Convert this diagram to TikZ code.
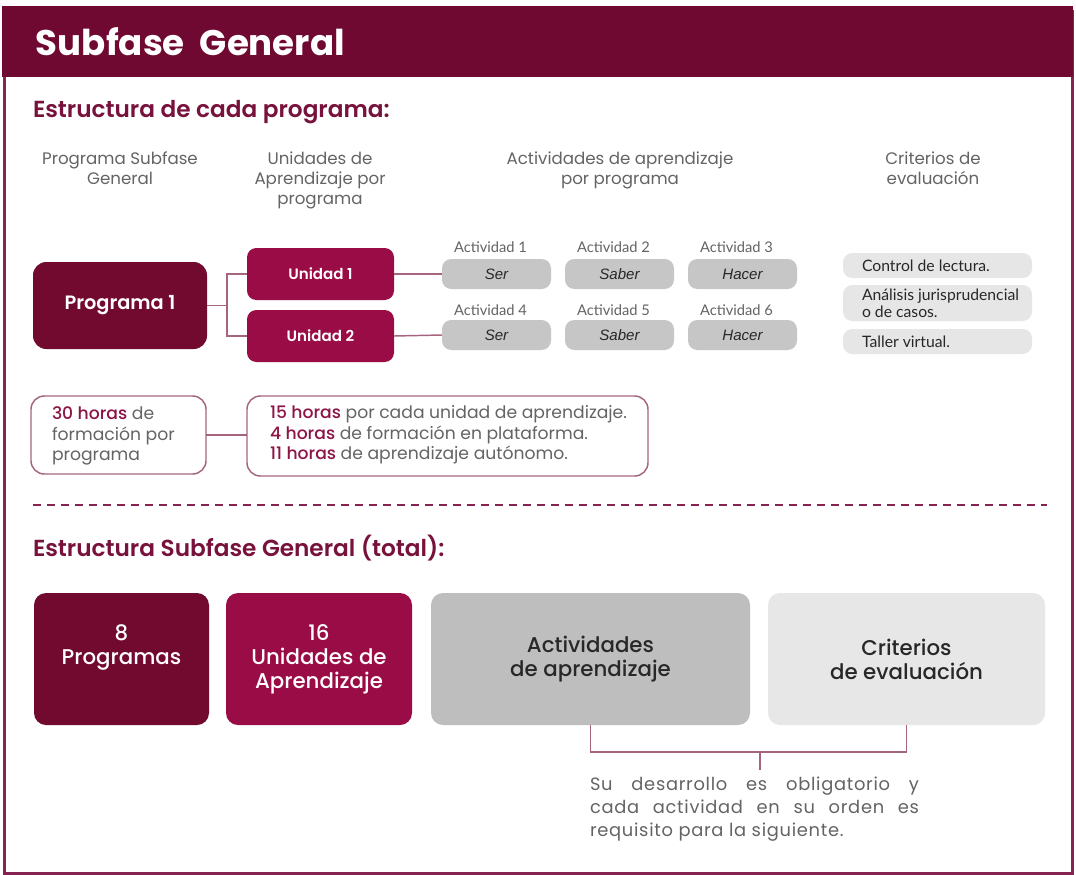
\documentclass[tikz,border=0pt]{standalone}
\usepackage{fontspec}
\setmainfont{Poppins}
\newfontfamily\pmed{Poppins Medium}
\newfontfamily\psemi{Poppins SemiBold}
\newfontfamily\pspaced{Poppins}[LetterSpace=4]
\newfontfamily\lato{Lato}
\newfontfamily\lib{Liberation Sans}
\definecolor{hdr}{RGB}{112,9,50}
\definecolor{prog}{RGB}{114,10,48}
\definecolor{unit}{RGB}{154,12,70}
\definecolor{ttl}{RGB}{120,18,60}
\definecolor{gtx}{RGB}{100,100,100}
\definecolor{dtx}{RGB}{40,40,40}
\definecolor{actg}{RGB}{198,198,199}
\definecolor{crit}{RGB}{230,230,231}
\definecolor{bigg}{RGB}{190,190,191}
\definecolor{bigc}{RGB}{231,231,232}
\definecolor{lnc}{RGB}{165,100,128}
\definecolor{hrs}{RGB}{140,20,70}
\definecolor{frm}{RGB}{135,35,80}
\tikzset{
  every node/.style={inner sep=0pt, outer sep=0pt},
  progbox/.style={fill=prog, rounded corners=10pt, text=white, font=\psemi\fontsize{14.5}{17}\selectfont},
  unitbox/.style={fill=unit, rounded corners=7pt, text=white, font=\psemi\fontsize{11.3}{13}\selectfont},
  actbox/.style={fill=actg, rounded corners=7pt, text=dtx, font=\lib\itshape\fontsize{11.3}{13}\selectfont, minimum width=109*0.75pt, minimum height=30*0.75pt},
  actlbl/.style={text=gtx, font=\lato\fontsize{11}{12}\selectfont},
  critbox/.style={fill=crit, rounded corners=7pt, minimum width=189*0.75pt},
  crittxt/.style={text=dtx, font=\lato\fontsize{11.8}{12.5}\selectfont, align=left, anchor=west},
  colhead/.style={text=gtx, font=\fontsize{12.5}{15}\selectfont, align=center, anchor=north},
  hrsbox/.style={draw=lnc, line width=1.1pt, rounded corners=10pt},
  hrstxt/.style={text=gtx, font=\fontsize{12.9}{15.5}\selectfont, align=left, anchor=west},
  sechead/.style={text=ttl, font=\psemi\fontsize{17.4}{20}\selectfont, anchor=west},
  bigbox/.style={rounded corners=9pt, minimum height=132*0.75pt, align=center, font=\pmed\fontsize{16}{18}\selectfont},
  conn/.style={draw=lnc, line width=1.1pt},
}
\newcommand{\hh}[1]{{\pmed\color{hrs}#1}}
\begin{document}
\begin{tikzpicture}[x=0.75pt,y=-0.75pt]
\useasboundingbox (0,0) rectangle (1076,875);
\fill[white] (0,0) rectangle (1076,875);
% frame
\draw[frm, line width=2.2pt] (4.5,10) -- (4.5,873.5) -- (1072.5,873.5) -- (1072.5,10);
% header
\node[fill=hdr, minimum width=1071*0.75pt, minimum height=71*0.75pt, anchor=north west] (hdr) at (2,6) {};
\node[text=white, font=\bfseries\fontsize{26.7}{30}\selectfont, anchor=west] (title) at (36,42) {Subfase\ \ General};
% section 1
\node[sechead] (sec1) at (33,112) {Estructura de cada programa:};
\node[colhead] (ch1) at (120,152) {Programa Subfase\\General};
\node[colhead] (ch2) at (320,152) {Unidades de\\Aprendizaje por\\programa};
\node[colhead] (ch3) at (620,152) {Actividades de aprendizaje\\por programa};
\node[colhead] (ch4) at (933,152) {Criterios de\\evaluación};
% program and units
\node[progbox, minimum width=174*0.75pt, minimum height=87*0.75pt] (prog1) at (120,305.5) {Programa 1};
\node[unitbox, minimum width=147*0.75pt, minimum height=52*0.75pt] (u1) at (320.5,274) {Unidad 1};
\node[unitbox, minimum width=147*0.75pt, minimum height=52*0.75pt] (u2) at (320.5,336) {Unidad 2};
\coordinate (j) at (227,305.5);
\draw[conn] (prog1.east) -- (j);
\draw[conn] (u1.west) -| (j) |- (u2.west);
% activities
\node[actbox] (a1) at (496.5,274) {Ser};
\node[actbox] (a2) at (619.5,274) {Saber};
\node[actbox] (a3) at (742.5,274) {Hacer};
\node[actbox] (a4) at (496.5,335) {Ser};
\node[actbox] (a5) at (619.5,335) {Saber};
\node[actbox] (a6) at (742.5,335) {Hacer};
\node[actlbl] (l1) at (490.5,247) {Actividad 1};
\node[actlbl] (l2) at (613.5,247) {Actividad 2};
\node[actlbl] (l3) at (736.5,247) {Actividad 3};
\node[actlbl] (l4) at (490.5,310) {Actividad 4};
\node[actlbl] (l5) at (613.5,310) {Actividad 5};
\node[actlbl] (l6) at (736.5,310) {Actividad 6};
\draw[conn] (u1.east) -- (a1.west);
\draw[conn] (u2.east) -- (a4.west);
% criteria
\node[critbox, minimum height=25*0.75pt] (c1) at (937.5,265.5) {};
\node[critbox, minimum height=36*0.75pt] (c2) at (937.5,303) {};
\node[critbox, minimum height=25*0.75pt] (c3) at (937.5,341.5) {};
\node[crittxt] (c1t) at (862,265.5) {Control de lectura.};
\node[crittxt] (c2t) at (862,303) {Análisis jurisprudencial\\o de casos.};
\node[crittxt] (c3t) at (862,341.5) {Taller virtual.};
% hours
\node[hrsbox, minimum width=175*0.75pt, minimum height=78*0.75pt] (h1) at (118.5,435) {};
\node[hrsbox, minimum width=401*0.75pt, minimum height=80*0.75pt] (h2) at (447.5,436) {};
\node[hrstxt] (h1t) at (52,436) {\hh{30 horas} de\\formación por\\programa};
\node[hrstxt] (h2t) at (270,435) {\hh{15 horas} por cada unidad de aprendizaje.\\\hh{4 horas} de formación en plataforma.\\\hh{11 horas} de aprendizaje autónomo.};
\draw[conn] (h1.east) -- (h1.east -| h2.west);
% dashed separator
\coordinate (d1) at (33,505);
\coordinate (d2) at (1047,505);
\draw[draw=frm, line width=1.5pt, dash pattern=on 6pt off 4.5pt] (d1) -- (d2);
% section 2
\node[sechead] (sec2) at (33,548) {Estructura Subfase General (total):};
\node[bigbox, fill=prog, text=white, minimum width=175*0.75pt] (b1) at (121.5,659) {8\\Programas\\\phantom{Ap}};
\node[bigbox, fill=unit, text=white, minimum width=186*0.75pt] (b2) at (319,659) {16\\Unidades de\\Aprendizaje};
\node[bigbox, fill=bigg, text=dtx, minimum width=319*0.75pt] (b3) at (590.5,659) {Actividades\\de aprendizaje};
\node[bigbox, fill=bigc, text=dtx, minimum width=277*0.75pt] (b4) at (906.5,659) {Criterios\\de evaluación};
% bracket
\coordinate (km) at (760,752);
\draw[conn] (b3.south) -- ++(0,27) -| (b4.south);
\node[text=gtx, font=\pspaced\fontsize{13.4}{17.3}\selectfont, align=left, anchor=north west] (note) at (590,777)
  {\makebox[246.75pt][s]{Su desarrollo es obligatorio y}\\\makebox[246.75pt][s]{cada actividad en su orden es}\\requisito para la siguiente.};
\draw[conn] (km) -- ++(0,18);
\end{tikzpicture}
\end{document}
